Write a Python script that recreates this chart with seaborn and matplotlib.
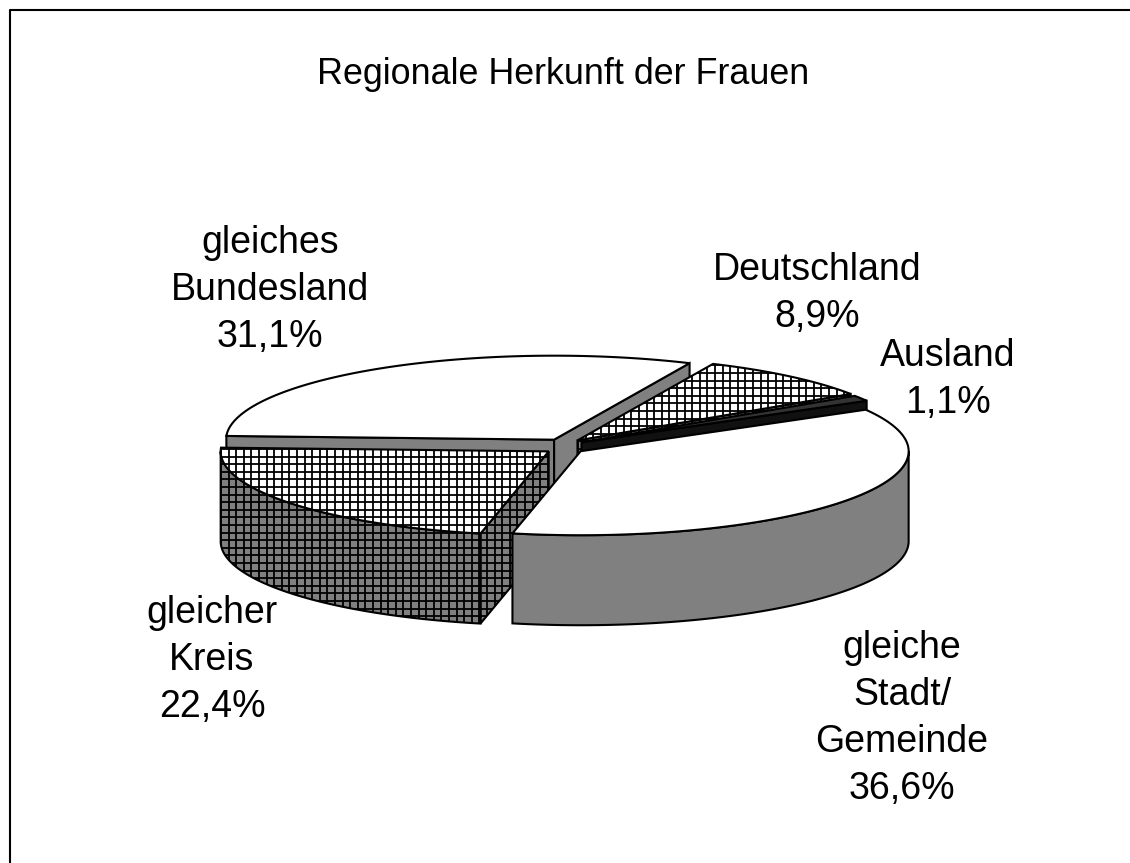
from matplotlib import pyplot as plt
from matplotlib.collections import LineCollection
from matplotlib.patches import Polygon
import numpy as np
import seaborn as sns

# shares in percent, in drawing order round the pie starting from the gleiche Stadt slice
categories = ['gleiche\nStadt/\nGemeinde', 'Ausland', 'Deutschland', 'gleiches\nBundesland', 'gleicher\nKreis']
shares = [36.6, 1.1, 8.9, 31.1, 22.4]
share_labels = ['36,6%', '1,1%', '8,9%', '31,1%', '22,4%']
title = 'Regionale Herkunft der Frauen'

# pie geometry in pixels
CX, CY = 564.5, 446.5
RX, RY = 328, 84
DEPTH = 90
EXPLODE_X, EXPLODE_Y = 20, 8
START = -102.0
GRID = 7.6
GRID_X0, GRID_Y0 = 221 % GRID, 449 % GRID

styles = {
    'gleiche\nStadt/\nGemeinde': dict(top='white', side='#808080', grid=False),
    'Ausland': dict(top='#333333', side='#111111', grid=False),
    'Deutschland': dict(top='white', side='#808080', grid=True),
    'gleiches\nBundesland': dict(top='white', side='#808080', grid=False),
    'gleicher\nKreis': dict(top='white', side='#808080', grid=True),
}
label_pos = {
    'gleiche\nStadt/\nGemeinde': (902, 718.5),
    'Ausland': (948, 379.5),
    'Deutschland': (817, 293.5),
    'gleiches\nBundesland': (270, 290),
    'gleicher\nKreis': (212, 660),
}

sns.set_style('white')
plt.rcParams['font.family'] = ['Liberation Sans', 'DejaVu Sans']

f, ax = plt.subplots(figsize=(11.3, 8.63), dpi=100)
ax.set_position([0, 0, 1, 1])
ax.set_xlim(0, 1130)
ax.set_ylim(863, 0)
ax.axis('off')


def arc(cx, cy, t0, t1):
    t = np.radians(np.linspace(t0, t1, max(int(abs(t1 - t0) * 2), 2)))
    return np.column_stack([cx + RX * np.cos(t), cy - RY * np.sin(t)])


def face(points, color, grid, z):
    patch = Polygon(points, closed=True, facecolor=color, edgecolor='none', zorder=z)
    ax.add_patch(patch)
    if grid:
        xs = np.arange(GRID_X0, 1130, GRID)
        ys = np.arange(GRID_Y0, 863, GRID)
        segs = [[(x, 0), (x, 863)] for x in xs] + [[(0, y), (1130, y)] for y in ys]
        lines = LineCollection(segs, colors='black', linewidths=1.3, zorder=z)
        ax.add_collection(lines)
        lines.set_clip_path(patch)
    ax.add_patch(Polygon(points, closed=True, fill=False, edgecolor='black', linewidth=1.5, zorder=z))


# slice angles come from the shares
edges = START + np.cumsum([0] + shares) * 360 / sum(shares)
slices = {}
for name, t0, t1 in zip(categories, edges[:-1], edges[1:]):
    mid = np.radians((t0 + t1) / 2)
    slices[name] = (CX + EXPLODE_X * np.cos(mid), CY - EXPLODE_Y * np.sin(mid), t0, t1)

# back slices first, front slices last
order = ['gleiches\nBundesland', 'Deutschland', 'Ausland', 'gleicher\nKreis', 'gleiche\nStadt/\nGemeinde']
for i, name in enumerate(order):
    cx, cy, t0, t1 = slices[name]
    st = styles[name]
    z = 2 + i
    for t, sign in ((t0, 1), (t1, -1)):
        if sign * np.cos(np.radians(t)) > 0:
            p = arc(cx, cy, t, t)[0]
            wall = [(cx, cy), tuple(p), (p[0], p[1] + DEPTH), (cx, cy + DEPTH)]
            face(wall, st['side'], st['grid'], z)
    # outer wall is the part of the rim facing the viewer
    for a, b in ((-180, 0), (180, 360)):
        lo = max(t0, a)
        hi = min(t1, b)
        if hi > lo:
            rim = arc(cx, cy, lo, hi)
            face(np.vstack([rim, rim[::-1] + [0, DEPTH]]), st['side'], st['grid'], z)
    top = np.vstack([[(cx, cy)], arc(cx, cy, t0, t1)])
    face(top, st['top'], st['grid'], z + 0.5)

for name, value in zip(categories, share_labels):
    x, y = label_pos[name]
    ax.text(x, y, name + '\n' + value, ha='center', va='center', fontsize=27,
            linespacing=1.39, color='black', zorder=10)
ax.text(563, 75, title, ha='center', va='center', fontsize=25.8, color='black', zorder=10)

# chart frame, the crop cuts it off on the right and at the bottom
ax.plot([10, 10, 1130], [863, 10, 10], color='black', linewidth=1.5, zorder=1)

f.savefig('out.png', dpi=100)
